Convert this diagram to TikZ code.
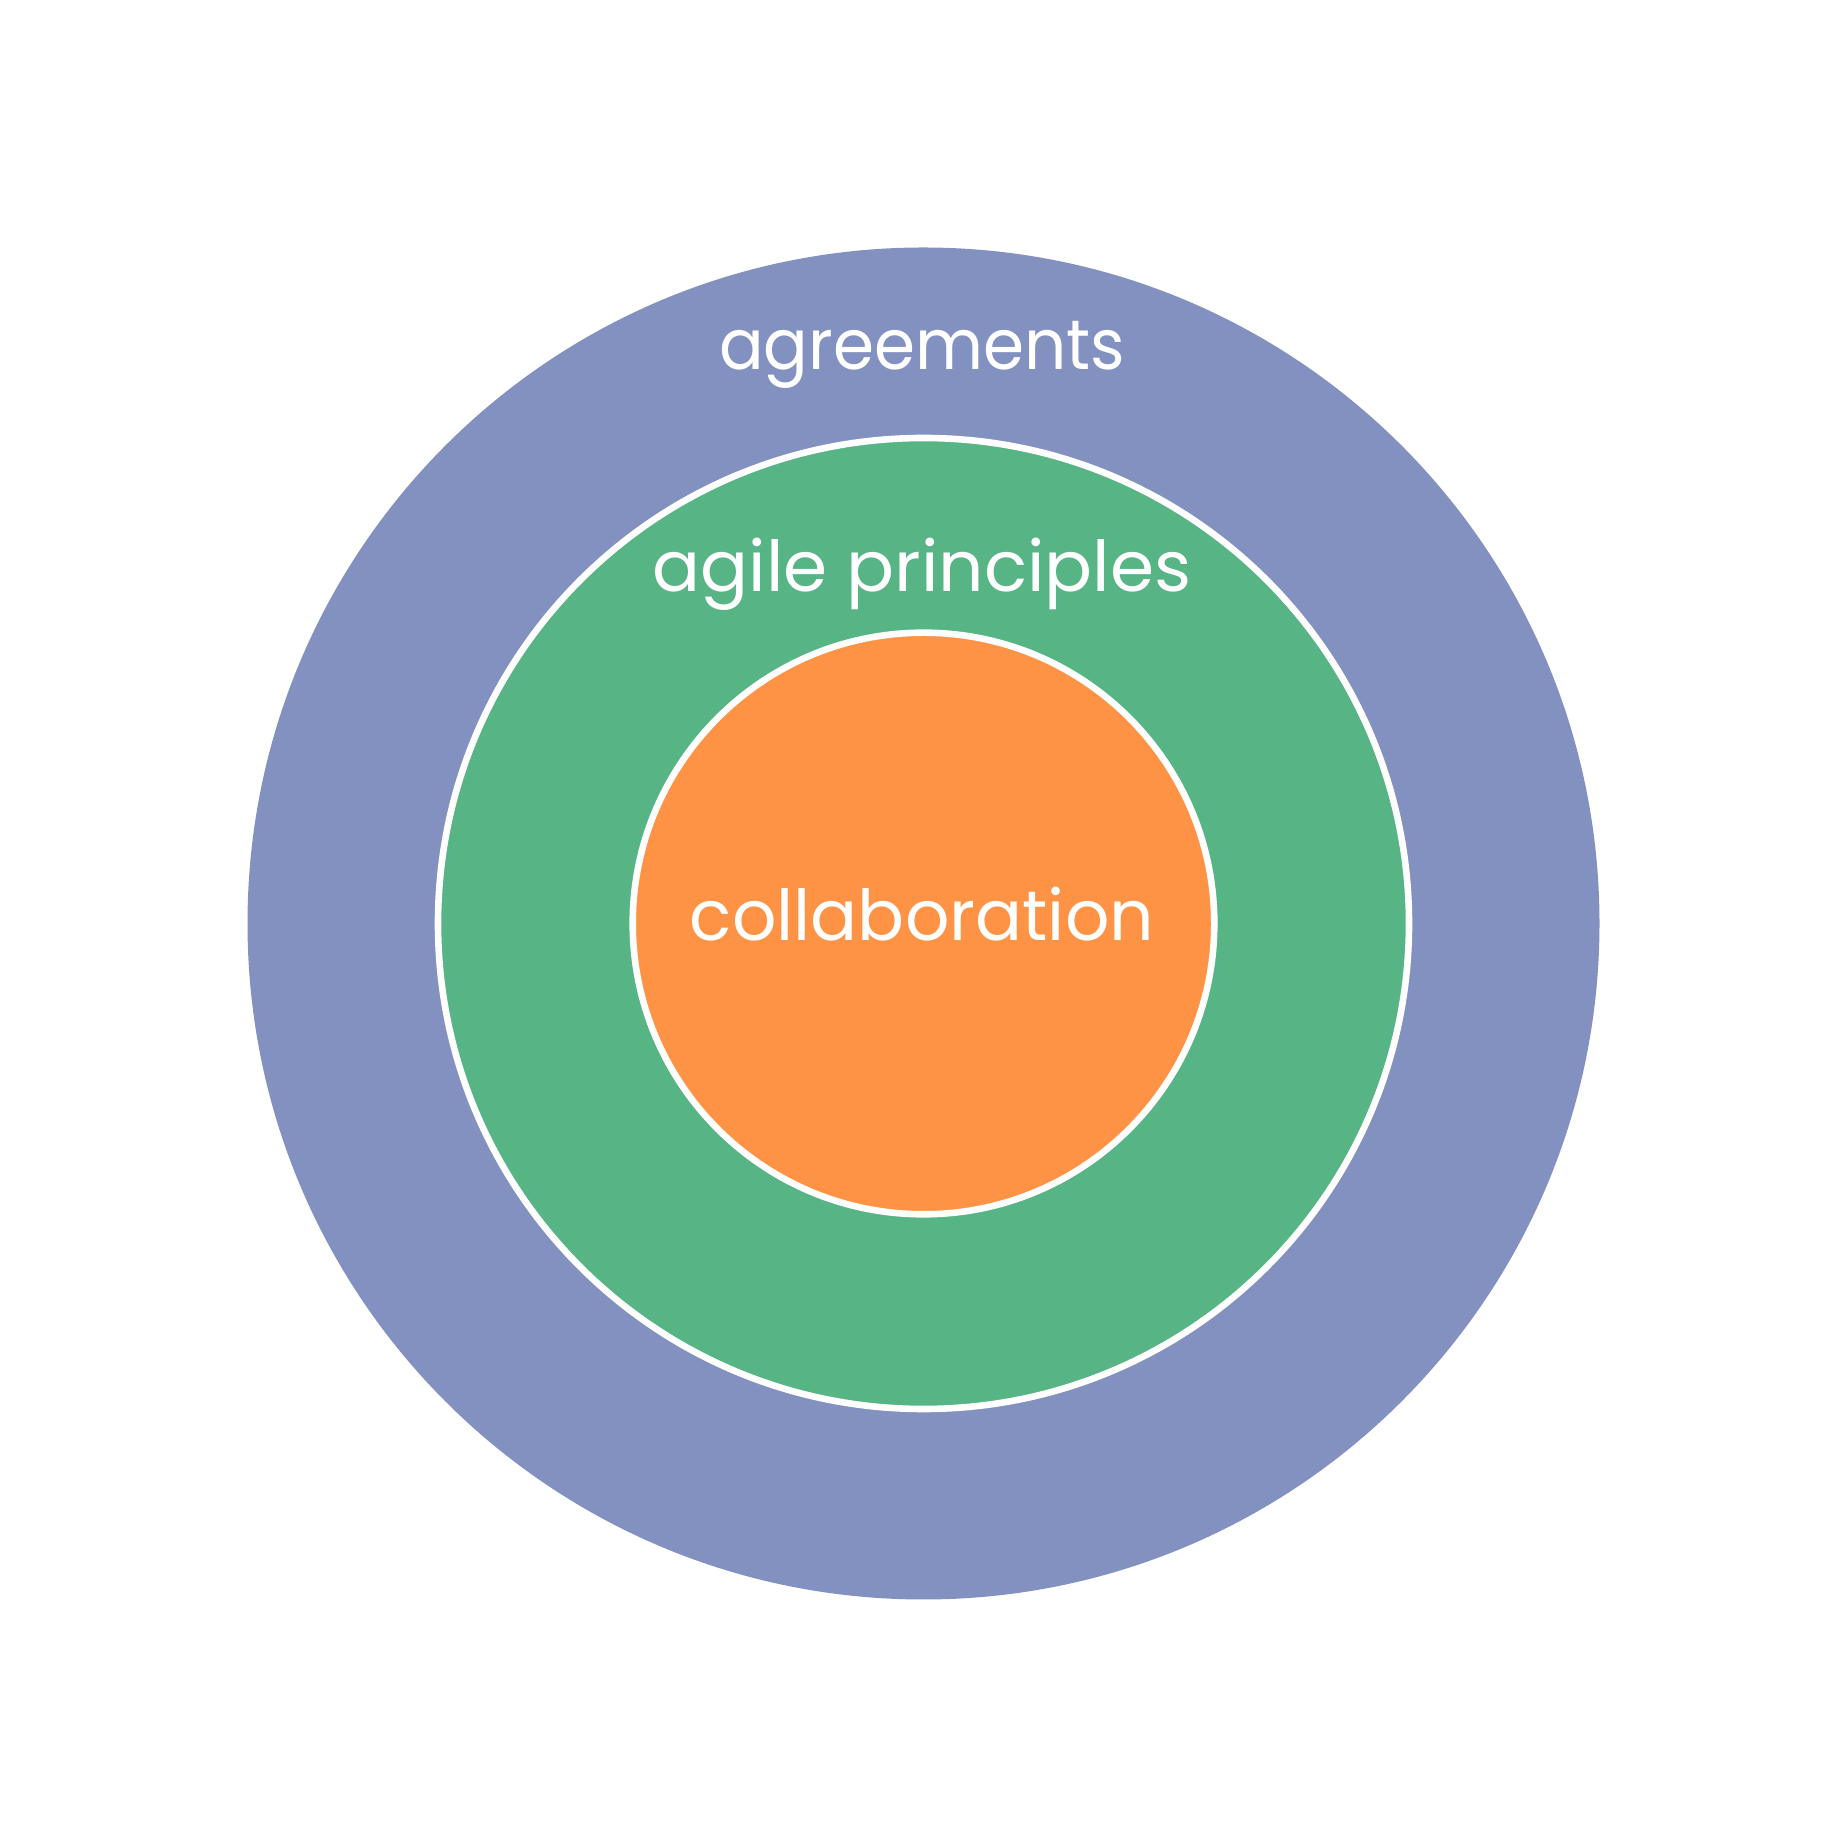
\documentclass[tikz,border=0pt]{standalone}
\usepackage{fontspec}
\setmainfont{Poppins}
\definecolor{ringblue}{RGB}{131,145,193}
\definecolor{ringgreen}{RGB}{87,180,133}
\definecolor{ringorange}{RGB}{255,147,69}
\begin{document}
\begin{tikzpicture}
  \tikzset{
    ringlabel/.style={text=white, anchor=base, inner sep=0pt,
      font=\fontsize{20}{24}\selectfont},
    whiteedge/.style={draw=white, line width=0.066cm}
  }
  \useasboundingbox[fill=white] (0,0) rectangle (18.47,18.47);
  \coordinate (c) at (9.235,9.235);
  % three nested rings
  \fill[ringblue] (c) circle[radius=6.76];
  \filldraw[ringgreen, whiteedge] (c) circle[radius=4.855];
  \filldraw[ringorange, whiteedge] (c) circle[radius=2.908];
  % labels
  \node[ringlabel, xscale=0.94, transform shape] (agr) at (9.22,14.77) {agreements};
  \node[ringlabel, xscale=1.01, transform shape] (agp) at (9.22,12.55) {agile principles};
  \node[ringlabel, xscale=0.99, transform shape] (col) at (9.22,9.06) {collaboration};
\end{tikzpicture}
\end{document}
